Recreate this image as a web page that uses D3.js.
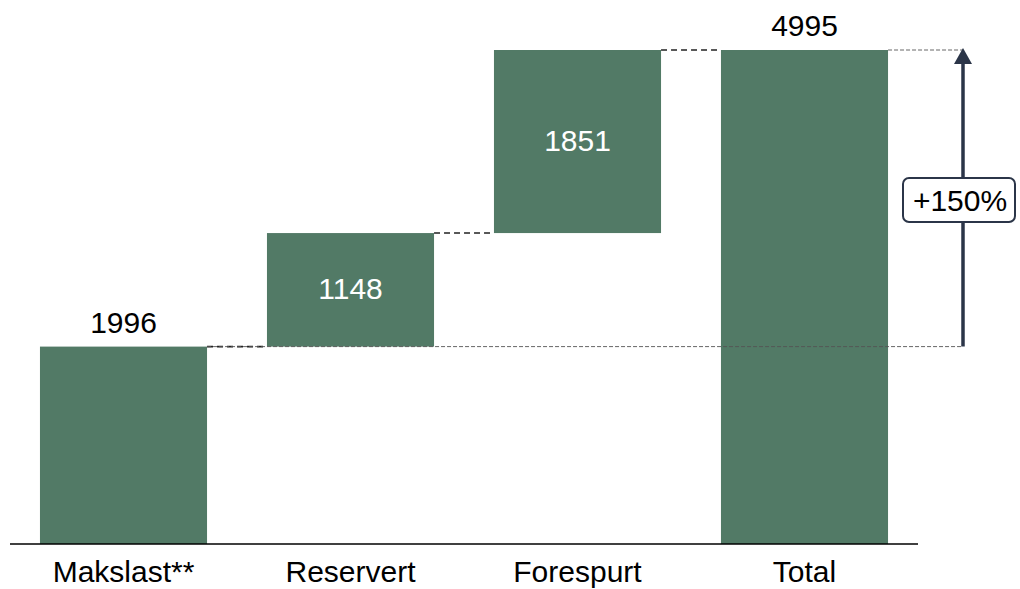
<!DOCTYPE html>
<html>
<head>
<meta charset="utf-8">
<script src="https://cdn.jsdelivr.net/npm/d3@7"></script>
<style>
  html, body { margin: 0; padding: 0; background: #fff; }
  svg { display: block; }
  text { font-family: "Liberation Sans", Arial, sans-serif; fill: #000; }
</style>
</head>
<body>
<svg id="chart" width="1020" height="589"></svg>
<script>
// Waterfall: starting load, added steps, and the resulting total
const categories = ["Makslast**", "Reservert", "Forespurt", "Total"];
const stepValues = [1996, 1148, 1851];
const totalValue = 4995;
const growthLabel = "+150%";

const barColor = "#527a66";
const arrowColor = "#2b3548";
const fontSize = 30;

const svg = d3.select("#chart");

const x = d3.scaleBand()
  .domain(categories)
  .range([10, 918])
  .paddingInner(0.264)
  .paddingOuter(0.132);

const y = d3.scaleLinear()
  .domain([0, totalValue])
  .range([544, 50]);

// Build floating segments from cumulative sums
let run = 0;
const bars = stepValues.map((v, i) => {
  const start = run;
  run += v;
  return { cat: categories[i], start, end: run, value: v, first: i === 0 };
});
bars.push({ cat: categories[3], start: 0, end: totalValue, value: totalValue, total: true });

// Bars
svg.append("g")
  .selectAll("rect")
  .data(bars)
  .join("rect")
  .attr("x", d => x(d.cat))
  .attr("width", x.bandwidth())
  .attr("y", d => y(d.end))
  .attr("height", d => y(d.start) - y(d.end))
  .attr("fill", barColor);

// Connectors between consecutive bars
const conn = svg.append("g");
for (let i = 0; i < bars.length - 1; i++) {
  const level = bars[i].end;
  conn.append("line")
    .attr("x1", x(bars[i].cat) + x.bandwidth())
    .attr("x2", x(bars[i + 1].cat))
    .attr("y1", y(level)).attr("y2", y(level))
    .attr("stroke", "#222")
    .attr("stroke-width", 1.6)
    .attr("stroke-dasharray", "6,4");
}

// Reference guides to the growth arrow
const arrowX = 963;
const guides = svg.append("g");
guides.append("line")
  .attr("x1", x(categories[0]) + x.bandwidth()).attr("x2", arrowX)
  .attr("y1", y(stepValues[0])).attr("y2", y(stepValues[0]))
  .attr("stroke", "#555").attr("stroke-width", 0.9)
  .attr("stroke-dasharray", "4,2");
guides.append("line")
  .attr("x1", x(categories[3]) + x.bandwidth()).attr("x2", arrowX)
  .attr("y1", y(totalValue)).attr("y2", y(totalValue))
  .attr("stroke", "#555").attr("stroke-width", 0.9)
  .attr("stroke-dasharray", "4,2");

// Axis baseline
svg.append("line")
  .attr("x1", 10).attr("x2", 918)
  .attr("y1", y(0)).attr("y2", y(0))
  .attr("stroke", "#000").attr("stroke-width", 1.5);

// Category labels
svg.append("g")
  .selectAll("text")
  .data(categories)
  .join("text")
  .attr("x", d => x(d) + x.bandwidth() / 2)
  .attr("y", 582)
  .attr("text-anchor", "middle")
  .attr("font-size", fontSize)
  .text(d => d);

// Value labels
svg.append("g")
  .selectAll("text")
  .data(bars)
  .join("text")
  .attr("x", d => x(d.cat) + x.bandwidth() / 2)
  .attr("y", d => (d.first || d.total) ? y(d.end) - 14 : (y(d.start) + y(d.end)) / 2 + 9)
  .attr("text-anchor", "middle")
  .attr("font-size", fontSize)
  .style("fill", d => (d.first || d.total) ? "#000" : "#fff")
  .text(d => d.value);

// Growth arrow
const tipY = y(totalValue) - 2;
svg.append("line")
  .attr("x1", arrowX).attr("x2", arrowX)
  .attr("y1", y(stepValues[0])).attr("y2", tipY + 14)
  .attr("stroke", arrowColor).attr("stroke-width", 3.5);
svg.append("path")
  .attr("d", `M${arrowX},${tipY} L${arrowX - 9},${tipY + 16} L${arrowX + 9},${tipY + 16} Z`)
  .attr("fill", arrowColor);

// Growth label box
const boxCy = 200;
svg.append("rect")
  .attr("x", 903).attr("y", boxCy - 22)
  .attr("width", 112).attr("height", 44)
  .attr("rx", 6)
  .attr("fill", "#fff")
  .attr("stroke", arrowColor).attr("stroke-width", 2);
svg.append("text")
  .attr("x", 960).attr("y", boxCy + 11)
  .attr("text-anchor", "middle")
  .attr("font-size", fontSize)
  .text(growthLabel);
</script>
</body>
</html>
